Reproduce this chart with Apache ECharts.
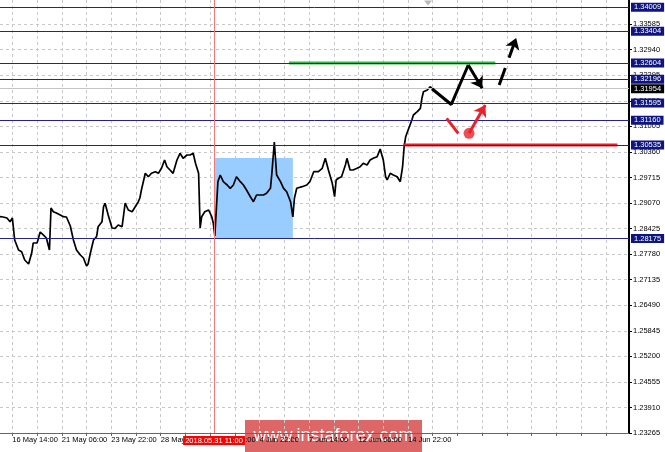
<!DOCTYPE html>
<html><head><meta charset="utf-8">
<script src="https://cdn.jsdelivr.net/npm/echarts@6/dist/echarts.min.js"></script>
<style>html,body{margin:0;padding:0;background:#fff}#c{width:665px;height:452px}</style>
</head><body><div id="c"></div>
<script>
// hourly bar index (0 = 11 May 22:00) and price
const priceBars = [48,52,57,61,64,67,72,76,80,85,89,91,96,100,104,108,112,114,117,121,126,130,134,139,143,147,152,156,160,162,165,169,173,175,180,182,184,188,193,197,201,206,210,214,219,223,227,229,231,234,236,240,244,249,253,257,261,264,268,272,277,281,285,290,294,298,301,305,307,309,313,318,322,324,326,330,333,337,342,346,350,354,359,363,367,372,376,380,385,389,393,398,400,403,406,411,415,419,424,427,429,432,439,445,449,454,460,465,469,471,473,478,481,483,486,490,495,497,501,505,510,514,518,523,527,531,536,540,544,547,549,553,557,562,566,569,571,573,577,581,583,588,592,594,596,601,605,607];
const prices = [1.28724,1.28717,1.28692,1.28598,1.28692,1.28136,1.27884,1.27841,1.27632,1.27531,1.27808,1.28061,1.28061,1.28338,1.28263,1.28187,1.27884,1.28944,1.28851,1.28818,1.28767,1.28724,1.28717,1.28490,1.28136,1.27884,1.27758,1.27682,1.27480,1.27531,1.27808,1.28136,1.28220,1.28472,1.28598,1.28977,1.29063,1.28767,1.28439,1.28432,1.28515,1.28472,1.29070,1.28894,1.28851,1.28977,1.29103,1.29196,1.29398,1.29651,1.29820,1.29734,1.29820,1.29860,1.29820,1.29946,1.30156,1.29986,1.29903,1.29820,1.30156,1.30325,1.30198,1.30282,1.30282,1.30325,1.30072,1.29820,1.28439,1.28724,1.28851,1.28894,1.28724,1.28565,1.28237,1.29608,1.29777,1.29608,1.29525,1.29441,1.29525,1.29734,1.29608,1.29525,1.29398,1.29229,1.29103,1.29272,1.29272,1.29272,1.29315,1.29441,1.29860,1.30610,1.29777,1.29608,1.29441,1.29355,1.29103,1.28717,1.29189,1.29441,1.29482,1.29525,1.29608,1.29860,1.29860,1.29946,1.30198,1.30156,1.29903,1.29567,1.29229,1.29651,1.29694,1.29734,1.30029,1.30198,1.29903,1.29903,1.29946,1.29986,1.30072,1.30029,1.30156,1.30198,1.30239,1.30433,1.30156,1.29734,1.29651,1.29820,1.29777,1.29734,1.29608,1.29986,1.30491,1.30744,1.30956,1.31165,1.31291,1.31375,1.31460,1.31713,1.31879,1.31922,1.32006,1.31954];

const xLabelBars = [64,128,192,256,320,384,448,512,576];
const xTickLabels = ['16 May 14:00','21 May 06:00','23 May 22:00','28 May 14:00','31 May 06:00','4 Jun 22:00','7 Jun 14:00','12 Jun 06:00','14 Jun 22:00'];
const yTickLabels = ['1.23265','1.23910','1.24555','1.25200','1.25845','1.26490','1.27135','1.27780','1.28425','1.29070','1.29715','1.30360','1.31005','1.31650','1.32295','1.32940','1.33585'];
const levelPrices = [1.34009,1.33404,1.32604,1.32196,1.31595,1.31160,1.30535,1.28175];
const currentPrice = 1.31954;
const eventBar = 325;
const eventLabel = '2018.05.31 11:00';
const boxBars = [325, 427];
const boxPrices = [1.28175, 1.30206];
const greenBars = [422, 689];
const greenPrice = 1.32604;
const redBars = [570, 847];
const redPrice = 1.30535;
const blackPathBars = [607, 632, 654, 672];
const blackPathPrices = [1.31954, 1.31556, 1.32553, 1.31965];
const dashArrowBars = [694, 716];
const dashArrowPrices = [1.32049, 1.33235];
const redDashBars = [626, 641];
const redDashPrices = [1.31208, 1.30829];
const redArrowBars = [655, 676];
const redArrowPrices = [1.30829, 1.31544];
const shiftBar = 602;
const shiftPrice = 1.34118;

const xGrid = [];
for (let v = 64; v <= 832; v += 32) xGrid.push(v);
const yTicks = yTickLabels.map(Number);
const pts = (bs, ps) => bs.map((b, i) => [b, ps[i]]);
const FONT = 'Liberation Sans';

const chart = echarts.init(document.getElementById('c'));
const levelLines = levelPrices.map(p => ({
  yAxis: p,
  lineStyle: {color: '#24248c', width: 1, type: 'solid'},
  label: {show: true, position: 'end', distance: 2, formatter: p.toFixed(5), color: '#fff',
    backgroundColor: '#0e1480', padding: [1, 3, 0, 3], fontSize: 7.5, fontFamily: FONT}
}));
levelLines.push({
  yAxis: currentPrice,
  lineStyle: {color: '#c4c4c4', width: 1, type: 'solid'},
  label: {show: true, position: 'end', distance: 2, formatter: currentPrice.toFixed(5), color: '#fff',
    backgroundColor: '#000', padding: [1, 3, 0, 3], fontSize: 7.5, fontFamily: FONT}
});
levelLines.push({
  xAxis: eventBar,
  lineStyle: {color: '#f07878', width: 1, type: 'solid'},
  label: {show: true, position: 'start', distance: 3, formatter: eventLabel, color: '#fff',
    backgroundColor: '#ff0000', padding: [1, 2, 0, 2], fontSize: 7.5, fontFamily: FONT}
});

chart.setOption({
  animation: false,
  grid: {left: 0, right: 36, top: 0, bottom: 19},
  xAxis: {
    type: 'value', min: 48, max: 862,
    axisLine: {show: true, onZero: false, lineStyle: {color: '#666', width: 1}},
    axisTick: {show: true, customValues: xGrid, length: 3, lineStyle: {color: '#666'}},
    axisLabel: {customValues: xLabelBars, formatter: v => xTickLabels[xLabelBars.indexOf(v)] || '',
      align: 'left', margin: 3, fontSize: 7.5, color: '#000', fontFamily: FONT},
    splitLine: {show: true, lineStyle: {color: '#c8c8c8', type: [3, 3], width: 1}}
  },
  yAxis: {
    type: 'value', position: 'right', min: 1.23265, max: 1.34194, scale: true,
    axisLine: {show: true, lineStyle: {color: '#000', width: 2}},
    axisTick: {show: true, customValues: yTicks, length: 3, lineStyle: {color: '#000'}},
    axisLabel: {customValues: yTicks, formatter: v => v.toFixed(5), margin: 4, fontSize: 7.5,
      color: '#000', fontFamily: FONT},
    splitLine: {show: true, lineStyle: {color: '#c8c8c8', type: [3, 3], width: 1}}
  },
  series: [
    {name: 'box', type: 'line', z: 1, data: pts(boxBars, boxPrices), showSymbol: false,
      lineStyle: {opacity: 0}, silent: true,
      markArea: {silent: true, itemStyle: {color: '#99ccff', opacity: 1},
        data: [[{coord: [boxBars[0], boxPrices[0]]}, {coord: [boxBars[1], boxPrices[1]]}]]}},
    {name: 'price', type: 'line', z: 3, data: pts(priceBars, prices), showSymbol: false,
      lineStyle: {color: '#000', width: 1.7}, silent: true,
      markLine: {silent: true, precision: 5, symbol: ['none', 'none'], data: levelLines}},
    {name: 'green', type: 'line', z: 4, data: pts(greenBars, [greenPrice, greenPrice]), showSymbol: false,
      lineStyle: {color: '#3cb44b', width: 3}},
    {name: 'redLevel', type: 'line', z: 4, data: pts(redBars, [redPrice, redPrice]), showSymbol: false,
      lineStyle: {color: '#e8222c', width: 3}},
    {name: 'blackPath', type: 'line', z: 5, data: pts(blackPathBars.slice(0, 3), blackPathPrices.slice(0, 3)),
      showSymbol: false, lineStyle: {color: '#000', width: 3},
      markLine: {silent: true, precision: 5, symbol: ['none', 'arrow'], symbolSize: 11,
        lineStyle: {color: '#000', width: 3, type: 'solid'}, label: {show: false},
        data: [[{coord: [blackPathBars[2], blackPathPrices[2]]}, {coord: [blackPathBars[3], blackPathPrices[3]]}]]}},
    {name: 'dashArrow', type: 'line', z: 5, data: [], showSymbol: false,
      markLine: {silent: true, precision: 5, symbol: ['none', 'arrow'], symbolSize: 11,
        lineStyle: {color: '#000', width: 3, type: [18, 11]}, label: {show: false},
        data: [[{coord: [dashArrowBars[0], dashArrowPrices[0]]}, {coord: [dashArrowBars[1], dashArrowPrices[1]]}]]}},
    {name: 'redDash', type: 'line', z: 5, data: pts(redDashBars, redDashPrices), showSymbol: false,
      lineStyle: {color: '#e8222c', width: 3}},
    {name: 'redDot', type: 'scatter', z: 6, data: [[redArrowBars[0], redArrowPrices[0]]], symbolSize: 11,
      itemStyle: {color: '#e8222c'}},
    {name: 'redArrow', type: 'line', z: 5, data: [], showSymbol: false,
      markLine: {silent: true, precision: 5, symbol: ['none', 'arrow'], symbolSize: 11,
        lineStyle: {color: '#e8222c', width: 3, type: 'solid'}, label: {show: false},
        data: [[{coord: [redArrowBars[0], redArrowPrices[0]]}, {coord: [redArrowBars[1], redArrowPrices[1]]}]]}},
    {name: 'shift', type: 'scatter', z: 6, data: [[shiftBar, shiftPrice]], symbol: 'triangle',
      symbolRotate: 180, symbolSize: [8, 5], itemStyle: {color: '#a8a8a8'}}
  ],
  graphic: [{
    type: 'group', left: 245, top: 420, z: 100,
    children: [
      {type: 'rect', shape: {x: 0, y: 0, width: 177, height: 32}, style: {fill: 'rgba(214,70,70,0.82)'}},
      {type: 'text', x: 88.5, y: 16, style: {text: 'www.instaforex.com', fill: '#fff', font: '18px "Liberation Sans"',
        textAlign: 'center', textVerticalAlign: 'middle'}}
    ]
  }]
});
</script></body></html>
